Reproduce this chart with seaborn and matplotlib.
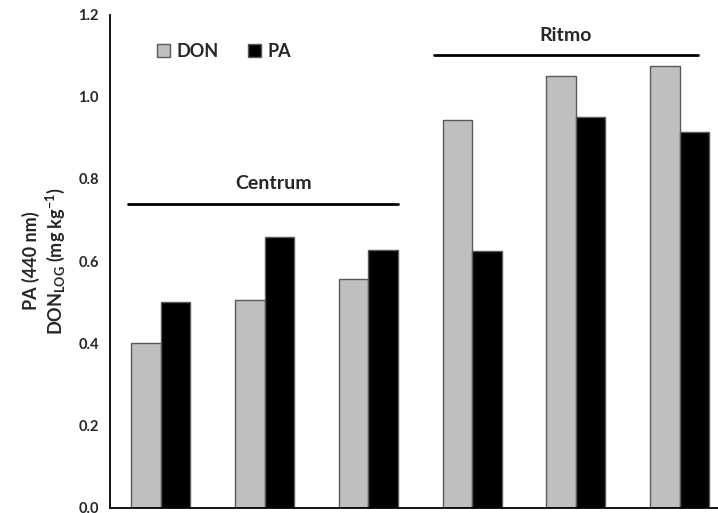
import pandas as pd
import matplotlib
matplotlib.use("Agg")
import matplotlib.pyplot as plt
import seaborn as sns
from matplotlib.patches import Patch

# values
samples = ["1", "2", "3", "4", "5", "6"]
don_values = [0.401, 0.506, 0.556, 0.943, 1.050, 1.075]
pa_values = [0.501, 0.658, 0.627, 0.624, 0.952, 0.915]
series_names = ["DON", "PA"]
series_colors = ["#BFBFBF", "#000000"]
y_ticks = [0.0, 0.2, 0.4, 0.6, 0.8, 1.0, 1.2]

# group brackets: (label, line start x, line end x, line y, text x, text y)
brackets = [("Centrum", -0.32, 2.29, 0.739, 1.09, 0.79),
            ("Ritmo", 2.63, 5.18, 1.103, 3.90, 1.15)]

df = pd.DataFrame({
    "sample": samples * 2,
    "series": [series_names[0]] * len(samples) + [series_names[1]] * len(samples),
    "value": don_values + pa_values,
})

sns.set_style("white")
plt.rcParams["font.family"] = ["Lato", "DejaVu Sans"]
plt.rcParams["mathtext.fontset"] = "custom"
plt.rcParams["mathtext.bf"] = "Lato:bold"
plt.rcParams["mathtext.rm"] = "Lato:bold"
plt.rcParams["mathtext.default"] = "bf"

fig = plt.figure(figsize=(7.18, 5.13), dpi=100)
ax = fig.add_axes([0.1532, 0.0107, 0.8468, 0.9606])

sns.barplot(data=df, x="sample", y="value", hue="series", order=samples,
            hue_order=series_names, palette=series_colors, width=0.57, gap=0,
            edgecolor="#595959", linewidth=1.0, legend=False, ax=ax)

ax.set_xlim(-0.49, 5.37)
ax.set_ylim(0, 1.2)
ax.set_yticks(y_ticks)
ax.set_yticklabels([f"{t:.1f}" for t in y_ticks], fontsize=10.5, fontweight="bold")
ax.set_xticks([])
ax.set_xlabel("")
ax.set_ylabel("PA (440 nm)\nDON$_{LOG}$ (mg kg$^{-1}$)", fontsize=13,
              fontweight="bold", labelpad=8, linespacing=1.25)

for side in ["top", "right"]:
    ax.spines[side].set_visible(False)
for side in ["left", "bottom"]:
    ax.spines[side].set_linewidth(1.3)
    ax.spines[side].set_color("black")
ax.tick_params(axis="y", direction="out", length=4, width=1.3, color="black", pad=4)

for label, x0, x1, y_line, x_text, y_text in brackets:
    ax.plot([x0, x1], [y_line, y_line], color="black", lw=2)
    ax.text(x_text, y_text, label, ha="center", va="center",
            fontsize=14, fontweight="bold")

handles = [Patch(facecolor=c, edgecolor="#595959", label=n)
           for n, c in zip(series_names, series_colors)]
ax.legend(handles=handles, loc="center left", bbox_to_anchor=(0.05, 0.925),
          ncol=2, frameon=False, handlelength=0.75, handleheight=0.75,
          handletextpad=0.35, columnspacing=1.6,
          prop={"weight": "bold", "size": 13})

fig.savefig("out.png", dpi=100)
